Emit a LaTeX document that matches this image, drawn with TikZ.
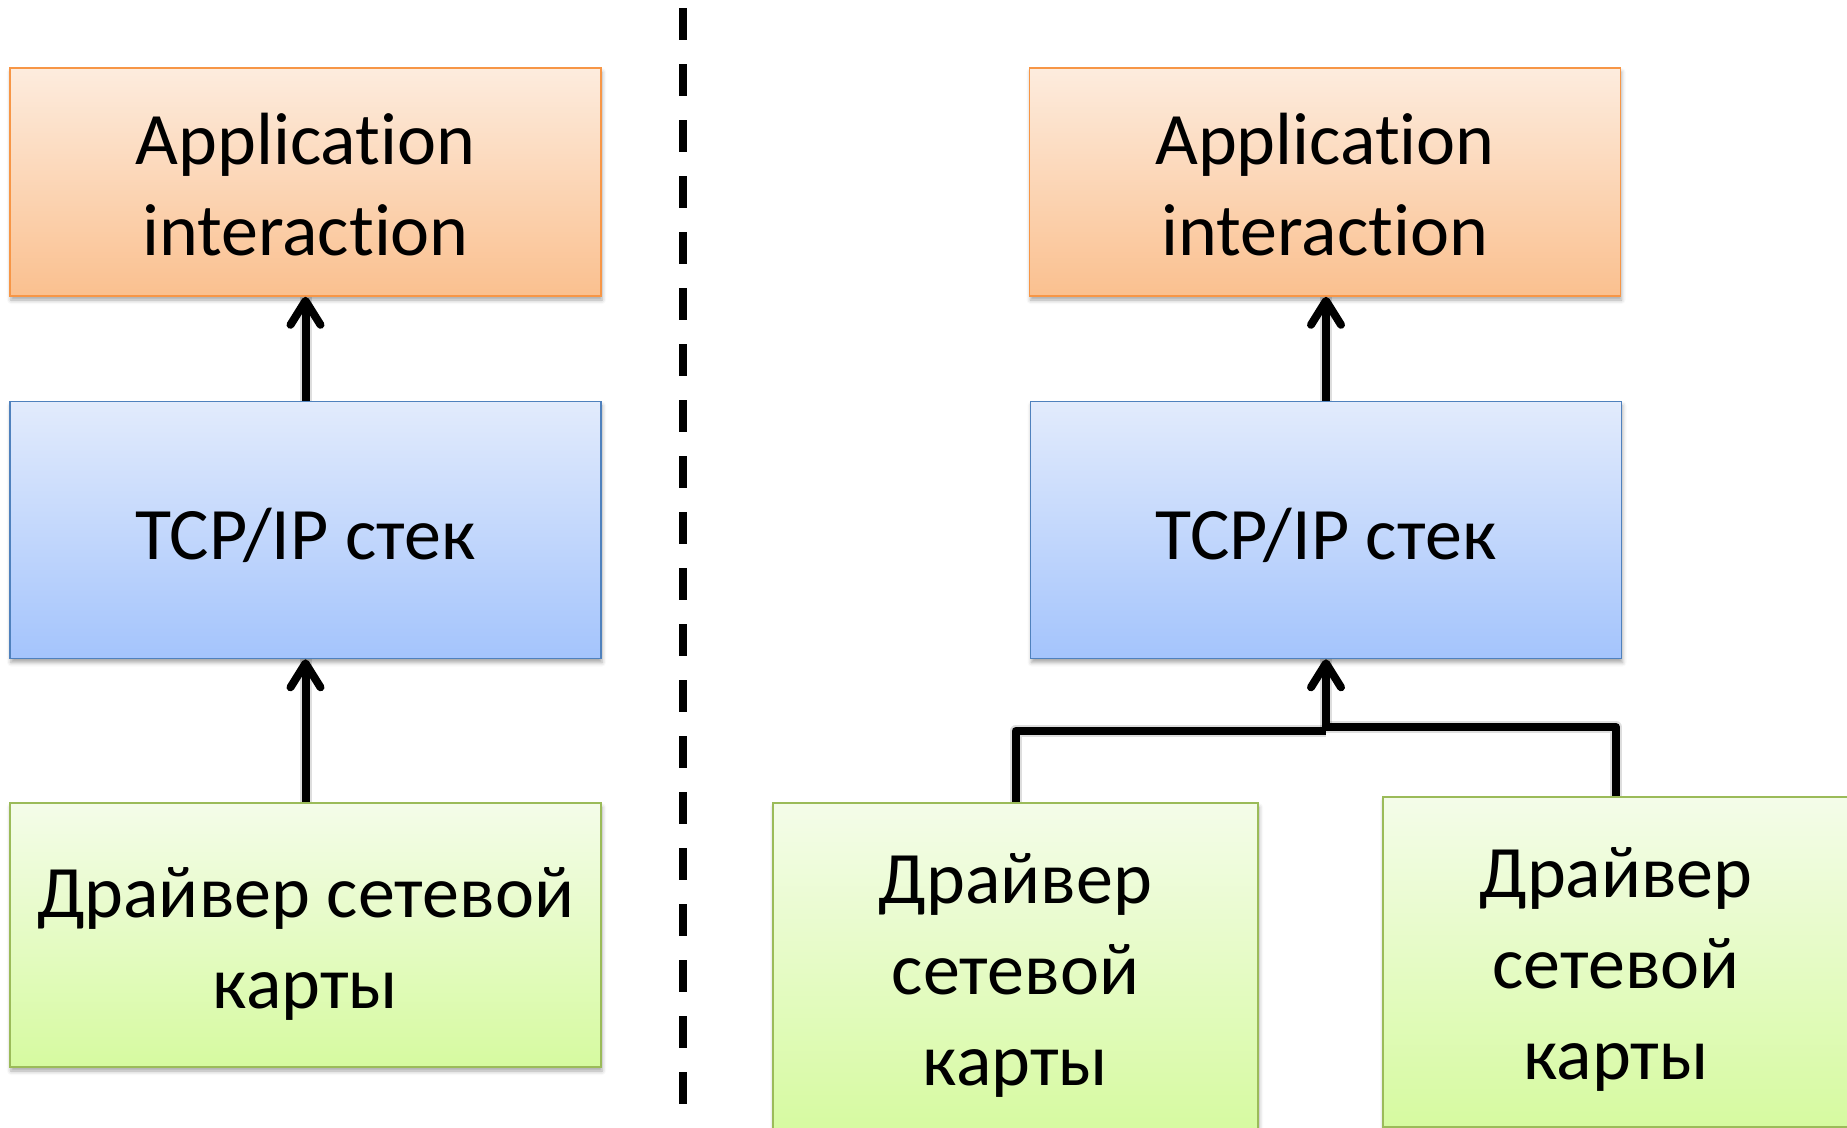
\documentclass[tikz,border=0pt]{standalone}
\usepackage{fontspec}
\setmainfont{Carlito}[Ligatures=NoCommon]
\usetikzlibrary{arrows.meta,shadows.blur}

\definecolor{orTop}{RGB}{253,236,222}
\definecolor{orBot}{RGB}{250,192,143}
\definecolor{orLine}{RGB}{247,150,70}
\definecolor{blTop}{RGB}{226,235,252}
\definecolor{blBot}{RGB}{164,196,252}
\definecolor{blLine}{RGB}{79,129,189}
\definecolor{grTop}{RGB}{244,252,233}
\definecolor{grBot}{RGB}{214,250,160}
\definecolor{grLine}{RGB}{155,187,89}

\begin{document}
\begin{tikzpicture}[x=1pt,y=-1pt,
  layer/.style={draw, line width=1.6pt, inner sep=0pt,
    blur shadow={shadow xshift=1pt, shadow yshift=-4pt,
      shadow blur radius=4pt, shadow opacity=35}},
  appbox/.style={layer, draw=orLine, top color=orTop, bottom color=orBot},
  stackbox/.style={layer, draw=blLine, top color=blTop, bottom color=blBot},
  drvbox/.style={layer, draw=grLine, top color=grTop, bottom color=grBot},
  caption/.style={inner sep=0pt, align=center,
    font=\fontsize{74}{91}\selectfont},
  wire/.style={line width=8pt, line join=round, black},
  wireshadow/.style={line width=12pt, line join=round, black, opacity=0.13,
    shift={(1,4)}},
  tip/.style={-{Straight Barb[length=24pt,width=30pt,round]}},
  divider/.style={line width=8pt, dash pattern=on 32pt off 24pt, black}
]
\useasboundingbox (0,0) rectangle (1847,1127);
\clip (0,0) rectangle (1847,1127);

% left column: single network card
\node[appbox, minimum width=591pt, minimum height=228pt]
  (appL) at (305.5,182) {};
\node[stackbox, minimum width=591pt, minimum height=257pt]
  (tcpL) at (305.5,530) {};
\node[drvbox, minimum width=591pt, minimum height=264pt]
  (drvL) at (305.5,935) {};

% right column: two network cards
\node[appbox, minimum width=591pt, minimum height=228pt]
  (appR) at (1325,182) {};
\node[stackbox, minimum width=591pt, minimum height=257pt]
  (tcpR) at (1326,530) {};
\node[drvbox, minimum width=485pt, minimum height=330pt]
  (drvA) at (1015.5,968) {};
\node[drvbox, minimum width=466pt, minimum height=330pt]
  (drvB) at (1616,962) {};

% box captions
\node[caption] (appLtext) at ([yshift=-3pt]appL.center) {Application\\interaction};
\node[caption] (tcpLtext) at ([yshift=-5pt]tcpL.center) {TCP/IP стек};
\node[caption] (drvLtext) at ([yshift=-9pt]drvL.center) {Драйвер сетевой\\карты};
\node[caption] (appRtext) at ([yshift=-3pt]appR.center) {Application\\interaction};
\node[caption] (tcpRtext) at ([yshift=-5pt]tcpR.center) {TCP/IP стек};
\node[caption] (drvAtext) at ([yshift=-7pt]drvA.center) {Драйвер\\сетевой\\карты};
\node[caption] (drvBtext) at ([yshift=-7pt]drvB.center) {Драйвер\\сетевой\\карты};

% junction points of the bus under the right stack
\coordinate (busA) at (1326,731);
\coordinate (busB) at (1326,727);

% soft shadows under the connectors
\draw[wireshadow] (tcpL.north) -- (appL.south);
\draw[wireshadow] (drvL.north) -- (tcpL.south);
\draw[wireshadow] (tcpR.north) -- (tcpR.north |- appR.south);
\draw[wireshadow] (drvA.north) |- (busA);
\draw[wireshadow] (drvB.north) |- (busB);
\draw[wireshadow] (busA) -- (busA |- tcpR.south);

% connectors
\draw[wire, tip] (tcpL.north) -- (appL.south);
\draw[wire, tip] (drvL.north) -- (tcpL.south);
\draw[wire, tip] (tcpR.north) -- (tcpR.north |- appR.south);
\draw[wire] (drvA.north) |- (busA);
\draw[wire] (drvB.north) |- (busB);
\draw[wire, tip] (busA) -- (busA |- tcpR.south);

% dashed separator between the two setups
\coordinate (sepTop) at (683,8);
\coordinate (sepBot) at (683,1105);
\draw[divider] (sepTop) -- (sepBot);
\end{tikzpicture}
\end{document}
